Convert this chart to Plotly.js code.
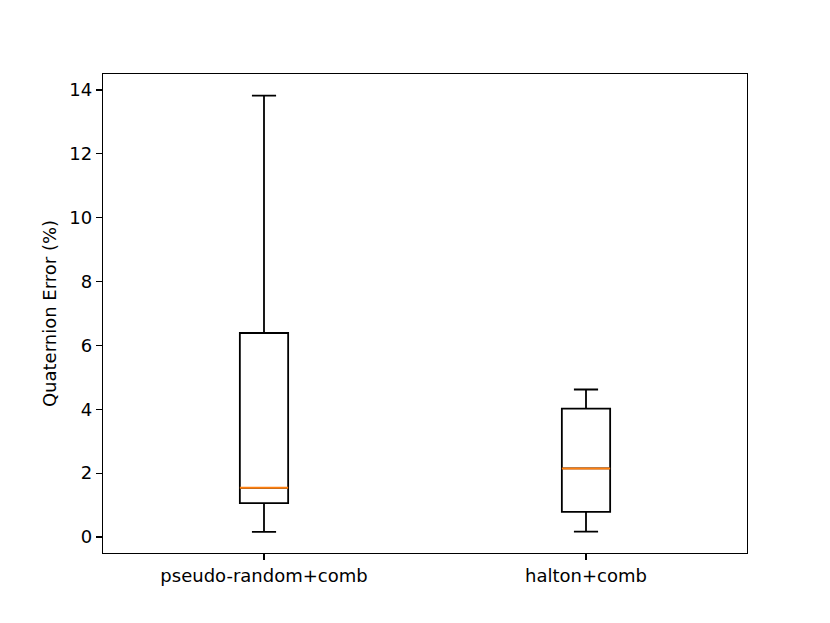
<!DOCTYPE html>
<html>
<head>
<meta charset="utf-8">
<script src="https://cdn.plot.ly/plotly-3.0.1.min.js"></script>
<style>html,body{margin:0;padding:0;background:#fff;}#chart{width:830px;height:623px;}</style>
</head>
<body>
<div id="chart"></div>
<script>
const categories = ["pseudo-random+comb", "halton+comb"];
const positions = [1, 2];
const lowerWhisker = [0.16, 0.17];
const q1Values = [1.06, 0.79];
const medianValues = [1.54, 2.15];
const q3Values = [6.39, 4.02];
const upperWhisker = [13.82, 4.62];

const boxWidth = 0.15;

const traces = [{
  type: "box",
  x: positions,
  q1: q1Values,
  median: medianValues,
  q3: q3Values,
  lowerfence: lowerWhisker,
  upperfence: upperWhisker,
  width: boxWidth,
  whiskerwidth: 0.5,
  boxpoints: false,
  fillcolor: "rgba(255,255,255,0)",
  line: {color: "#000000", width: 1.8},
  hoverinfo: "skip",
  showlegend: false
}];

positions.forEach((p, i) => {
  traces.push({
    type: "scatter",
    mode: "lines",
    x: [p - boxWidth / 2, p + boxWidth / 2],
    y: [medianValues[i], medianValues[i]],
    line: {color: "#ff7f0e", width: 2},
    hoverinfo: "skip",
    showlegend: false
  });
});

const layout = {
  width: 830,
  height: 623,
  paper_bgcolor: "#ffffff",
  plot_bgcolor: "#ffffff",
  font: {family: "DejaVu Sans", size: 18, color: "#000000"},
  margin: {l: 103.3, r: 83.3, t: 74.3, b: 69.7, pad: 0},
  xaxis: {
    range: [0.5, 2.5],
    tickvals: positions,
    ticktext: categories,
    showgrid: false,
    zeroline: false,
    showline: true,
    linecolor: "#000000",
    linewidth: 1.2,
    mirror: true,
    ticks: "outside",
    ticklen: 6,
    tickwidth: 1.1,
    tickcolor: "#000000",
    tickfont: {family: "DejaVu Sans", size: 18}
  },
  yaxis: {
    range: [-0.5, 14.5],
    tickvals: [0, 2, 4, 6, 8, 10, 12, 14],
    showgrid: false,
    zeroline: false,
    showline: true,
    linecolor: "#000000",
    linewidth: 1.2,
    mirror: true,
    ticks: "outside",
    ticklen: 6,
    tickwidth: 1.1,
    tickcolor: "#000000",
    tickfont: {family: "DejaVu Sans", size: 18},
    title: {text: "Quaternion Error (%)", font: {family: "DejaVu Sans", size: 18}, standoff: 8}
  }
};

Plotly.newPlot("chart", traces, layout, {displayModeBar: false, staticPlot: true});
</script>
</body>
</html>
